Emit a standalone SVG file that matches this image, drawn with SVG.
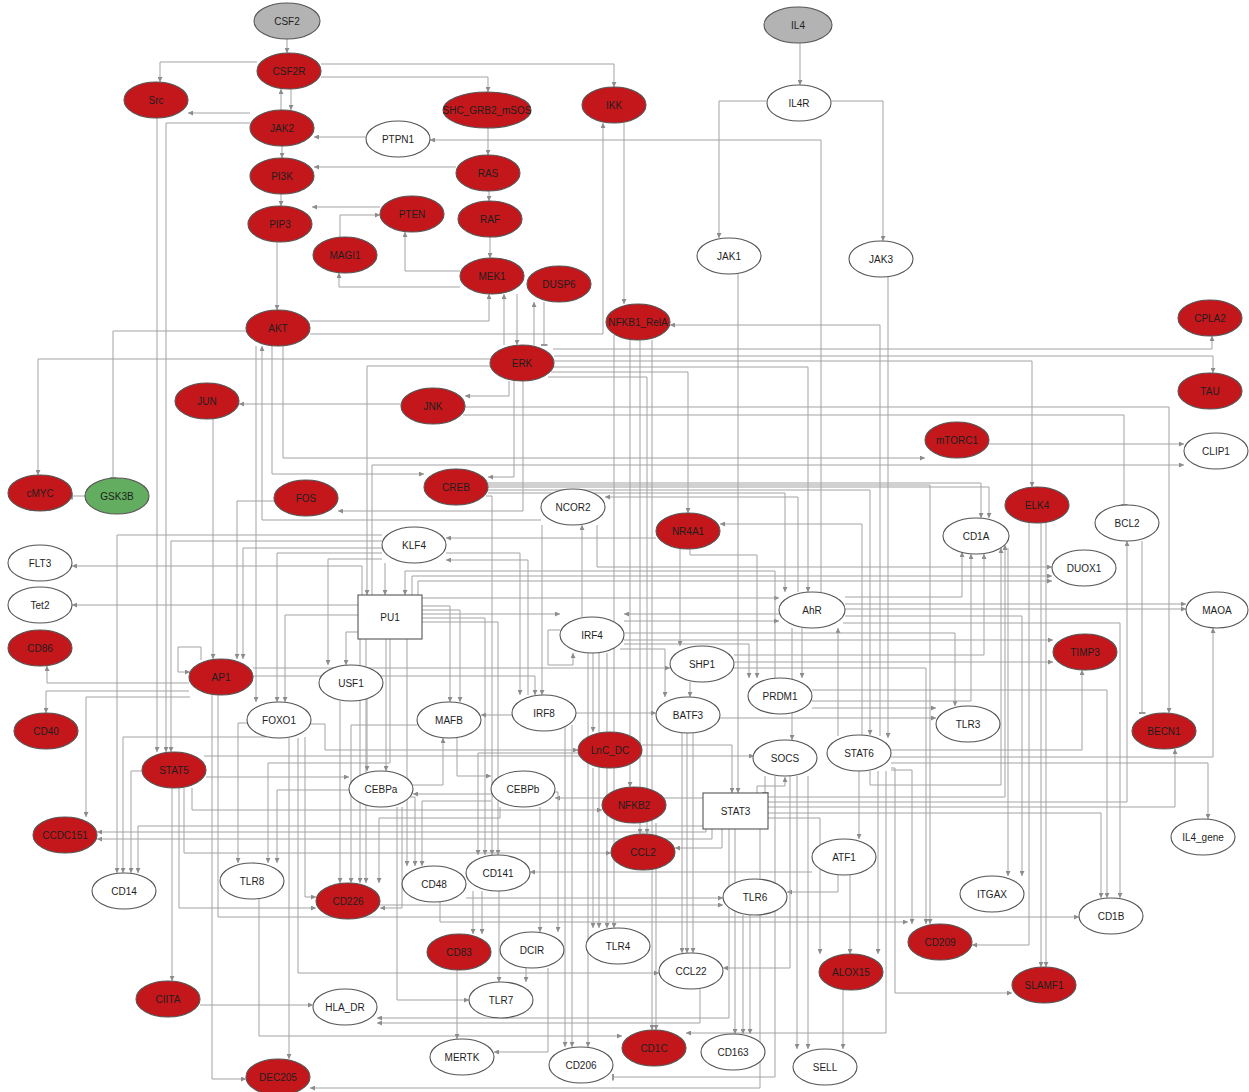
<svg xmlns="http://www.w3.org/2000/svg" width="1249" height="1092" viewBox="0 0 1249 1092">
<defs>
<marker id="ar" viewBox="0 0 6 6" refX="6" refY="3" markerWidth="5" markerHeight="5" orient="auto" markerUnits="userSpaceOnUse"><path d="M0,0 L6,3 L0,6 z" fill="#8c8c8c"/></marker>
<marker id="ib" viewBox="0 0 2 8" refX="1" refY="4" markerWidth="2" markerHeight="7" orient="auto" markerUnits="userSpaceOnUse"><rect width="2" height="8" fill="#8c8c8c"/></marker>
</defs>
<style>
.c path{fill:none;stroke:#a3a3a3;stroke-width:1;marker-end:url(#ar)}
.c path.i{marker-end:url(#ib)}
.n ellipse,.n rect{stroke:#555;stroke-width:1.1}
.r{fill:#c4171c}
.w{fill:#fff}
.g{fill:#b3b3b3}
.gr{fill:#63ad60}
text{font-family:"Liberation Sans",Arial,sans-serif;font-size:10px;text-anchor:middle;fill:#1e1e1e}
</style>
<rect width="1249" height="1092" fill="#fff"/>
<g class="c" id="connectors">
<path d="M287,39 V53"/>
<path d="M257,62 H160 V82"/>
<path d="M281,110 V89"/>
<path d="M291,89 V110"/>
<path d="M250,113 H188"/>
<path d="M250,123 H166 V752"/>
<path d="M157,118 V752"/>
<path d="M282,146 V158"/>
<path d="M281,194 V206"/>
<path d="M277,242 V310"/>
<path d="M321,64 H614 V87"/>
<path d="M321,77 H488 V92"/>
<path d="M488,128 V155"/>
<path d="M456,167 H314"/>
<path d="M366,137 H314"/>
<path d="M821,592 V140 H430"/>
<path d="M489,191 V201"/>
<path d="M490,237 V258"/>
<path d="M380,207 H312"/>
<path d="M340,237 V215 H380"/>
<path d="M460,271 H405 V232"/>
<path d="M460,287 H339 V273"/>
<path d="M310,321 H489 V294"/>
<path d="M310,334 H603 V123"/>
<path d="M504,345 V294"/>
<path d="M517,294 V345"/>
<path d="M534,345 V302"/>
<path class="i" d="M544,302 V345"/>
<path d="M624,123 V304"/>
<path d="M800,43 V85"/>
<path d="M767,101 H719 V238"/>
<path d="M831,101 H883 V241"/>
<path d="M738,274 V793"/>
<path d="M888,277 V738"/>
<path d="M880,736 V325 H670"/>
<path class="i" d="M246,331 H113 V478"/>
<path d="M490,359 H38 V475"/>
<path class="i" d="M85,496 H72"/>
<path d="M509,381 V396 H465"/>
<path d="M401,404 H239"/>
<path d="M213,419 V659"/>
<path d="M274,501 H237 V659"/>
<path d="M201,660 V647 H178 V672 H190"/>
<path d="M514,381 V477 H488"/>
<path d="M272,346 V474 H424"/>
<path d="M523,381 V511 H338"/>
<path d="M283,346 V458 H925"/>
<path d="M372,595 V465 H1184"/>
<path d="M989,444 H1184"/>
<path d="M553,349 H1212 V336"/>
<path d="M554,356 H1213 V373"/>
<path d="M554,361 H1032 V487"/>
<path d="M553,367 H808 V592"/>
<path d="M551,372 H688 V513"/>
<path d="M548,377 H647 V834"/>
<path d="M465,407 H1169 V713"/>
<path class="i" d="M463,415 H1124 V505"/>
<path class="i" d="M1142,541 V713"/>
<path d="M891,763 H1208 V819"/>
<path d="M891,757 H1213 V628"/>
<path d="M890,750 H1082 V670"/>
<path d="M768,807 H1175 V749"/>
<path d="M768,802 H1127 V541"/>
<path d="M768,797 H1005 V545"/>
<path d="M768,813 H1101 V898"/>
<path d="M768,818 H820 V954"/>
<path d="M870,771 V785 H1001 V548"/>
<path d="M1029,523 V945 H972"/>
<path d="M1041,523 V967"/>
<path d="M1046,523 V967"/>
<path d="M891,768 H895 V993 H1012"/>
<path d="M891,770 H912 V924"/>
<path d="M886,771 V1033 H686"/>
<path d="M859,771 V839"/>
<path d="M878,771 V954"/>
<path d="M838,736 V628"/>
<path d="M862,735 V524 H720"/>
<path d="M838,875 V892 H787"/>
<path d="M812,872 H530"/>
<path d="M850,875 V954"/>
<path d="M743,915 V1034"/>
<path d="M750,915 V1034"/>
<path d="M735,829 V1034"/>
<path d="M722,829 V848 H675"/>
<path d="M729,829 V1018 H377"/>
<path d="M700,989 V1023 H377"/>
<path d="M760,829 V1088 H310"/>
<path class="i" d="M765,776 V793"/>
<path d="M757,793 V786 H785 V777"/>
<path d="M797,776 V1049"/>
<path d="M808,776 V1049"/>
<path class="i" d="M775,776 V1077 H613"/>
<path d="M790,776 V968 H723"/>
<path d="M843,990 V1049"/>
<path d="M706,829 V832 H97"/>
<path d="M712,829 V839 H97"/>
<path d="M703,826 H138 V873"/>
<path d="M703,798 H555"/>
<path d="M642,745 H732 V793"/>
<path d="M640,340 V834"/>
<path d="M652,340 V1030"/>
<path d="M656,823 V1030"/>
<path d="M630,340 V787"/>
<path d="M614,335 V928"/>
<path d="M382,535 H117 V873"/>
<path d="M382,541 H171 V752"/>
<path d="M382,548 H243 V659"/>
<path d="M382,553 H277 V702"/>
<path d="M385,563 V595"/>
<path d="M446,553 H520 V695"/>
<path d="M528,695 V560 H446"/>
<path d="M656,538 H446"/>
<path d="M382,559 H328 V665"/>
<path d="M362,595 V566 H72"/>
<path d="M358,605 H72"/>
<path d="M422,614 H560"/>
<path d="M422,598 H779"/>
<path d="M422,606 H450 V702"/>
<path d="M422,610 H460 V702"/>
<path d="M358,632 H346 V665"/>
<path d="M386,639 V771"/>
<path d="M366,639 V883"/>
<path d="M360,639 V883"/>
<path d="M407,639 V866"/>
<path d="M390,639 V763 H268 V863"/>
<path d="M358,615 H285 V702"/>
<path d="M422,618 H485 V855"/>
<path d="M422,622 H498 V855"/>
<path d="M412,595 V576 H1052"/>
<path d="M418,595 V581 H1052"/>
<path d="M775,678 V571 H405 V595"/>
<path d="M491,366 H367 V595"/>
<path d="M582,617 V525"/>
<path d="M560,630 H548 V665 H573 V653"/>
<path d="M624,621 H779"/>
<path d="M779,614 H624"/>
<path d="M624,640 H1053"/>
<path d="M593,653 V732"/>
<path d="M599,653 V928"/>
<path d="M607,653 V928"/>
<path d="M620,649 H665 V697"/>
<path d="M624,644 H749 V678"/>
<path d="M624,633 H955 V706"/>
<path d="M588,653 V1047"/>
<path d="M798,592 V497 H605"/>
<path d="M488,493 H785 V592"/>
<path d="M845,604 H1186"/>
<path d="M845,609 H1186"/>
<path d="M802,628 V678"/>
<path d="M792,628 V740"/>
<path d="M845,597 H962 V552"/>
<path d="M845,616 H1022 V876"/>
<path d="M843,623 H1120 V898"/>
<path d="M1008,548 V876"/>
<path d="M488,483 H981 V518"/>
<path d="M488,487 H989 V518"/>
<path d="M488,485 H930 V924"/>
<path d="M488,490 H870 V735"/>
<path d="M486,496 H492 V855"/>
<path d="M541,520 H262 V346"/>
<path d="M542,525 V695"/>
<path d="M597,525 V567 H1052"/>
<path d="M680,549 V646"/>
<path d="M690,549 V555 H757 V678"/>
<path d="M690,682 V697"/>
<path d="M253,668 H670"/>
<path d="M734,662 H1053"/>
<path d="M734,668 H926 V924"/>
<path d="M734,655 H984 V554"/>
<path d="M682,733 V953"/>
<path d="M687,733 V953"/>
<path d="M693,733 V953"/>
<path d="M720,718 H936"/>
<path d="M812,708 H936"/>
<path d="M812,690 H1107 V898"/>
<path d="M812,701 H971 V554"/>
<path d="M512,715 H481"/>
<path d="M565,727 V1047"/>
<path d="M572,725 V1047"/>
<path d="M576,713 H656"/>
<path d="M457,738 V776 H491"/>
<path d="M413,785 H443 V738"/>
<path d="M417,725 H351 V883"/>
<path d="M340,701 V883"/>
<path d="M367,699 V771"/>
<path d="M189,683 H47 V666"/>
<path d="M189,691 H46 V713"/>
<path d="M190,697 H86 V817"/>
<path d="M212,695 V1079 H246"/>
<path d="M218,695 V917 H1079"/>
<path d="M253,676 H535 V695"/>
<path d="M266,737 H123 V873"/>
<path d="M247,723 H238 V863"/>
<path d="M289,738 V1059"/>
<path d="M298,738 V973 H659"/>
<path d="M305,737 V897 H316"/>
<path d="M311,724 H325 V750 H578"/>
<path d="M256,346 V702"/>
<path d="M142,771 H131 V873"/>
<path d="M172,788 V981"/>
<path d="M179,788 V908 H316"/>
<path d="M184,788 V853 H611"/>
<path d="M192,788 V810 H602"/>
<path d="M206,777 H349"/>
<path d="M204,756 H754"/>
<path d="M200,1005 H313"/>
<path d="M259,899 V1036 H622"/>
<path d="M349,790 H277 V863"/>
<path d="M397,807 V1000 H469"/>
<path d="M402,807 V908 H380"/>
<path d="M410,797 H415 V866"/>
<path d="M491,801 H422 V866"/>
<path d="M491,794 H413"/>
<path d="M500,807 V818 H379 V883"/>
<path d="M540,807 V932"/>
<path d="M555,792 H558 V932"/>
<path d="M578,753 H478 V855"/>
<path d="M593,768 V928"/>
<path d="M473,891 V934"/>
<path d="M482,891 V934"/>
<path d="M499,891 V982"/>
<path d="M466,898 H723"/>
<path d="M440,902 V922 H908"/>
<path d="M380,905 H723"/>
<path d="M526,968 V982"/>
<path d="M548,968 V1052 H494"/>
<path d="M457,970 V1039"/>
</g>
<g id="nodes">
<g id="n-CSF2" class="n"><ellipse class="g" cx="287" cy="21" rx="33" ry="18"/><text x="287" y="24.5">CSF2</text></g>
<g id="n-CSF2R" class="n"><ellipse class="r" cx="289" cy="71" rx="32" ry="18"/><text x="289" y="74.5">CSF2R</text></g>
<g id="n-Src" class="n"><ellipse class="r" cx="156" cy="100" rx="32" ry="18"/><text x="156" y="103.5">Src</text></g>
<g id="n-JAK2" class="n"><ellipse class="r" cx="282" cy="128" rx="32" ry="18"/><text x="282" y="131.5">JAK2</text></g>
<g id="n-PI3K" class="n"><ellipse class="r" cx="282" cy="176" rx="32" ry="18"/><text x="282" y="179.5">PI3K</text></g>
<g id="n-PIP3" class="n"><ellipse class="r" cx="280" cy="224" rx="32" ry="18"/><text x="280" y="227.5">PIP3</text></g>
<g id="n-AKT" class="n"><ellipse class="r" cx="278" cy="328" rx="32" ry="18"/><text x="278" y="331.5">AKT</text></g>
<g id="n-SHC_GRB2_mSOS" class="n"><ellipse class="r" cx="487" cy="110" rx="44" ry="18"/><text x="487" y="113.5">SHC_GRB2_mSOS</text></g>
<g id="n-IKK" class="n"><ellipse class="r" cx="614" cy="105" rx="32" ry="18"/><text x="614" y="108.5">IKK</text></g>
<g id="n-PTPN1" class="n"><ellipse class="w" cx="398" cy="139" rx="32" ry="18"/><text x="398" y="142.5">PTPN1</text></g>
<g id="n-RAS" class="n"><ellipse class="r" cx="488" cy="173" rx="32" ry="18"/><text x="488" y="176.5">RAS</text></g>
<g id="n-RAF" class="n"><ellipse class="r" cx="490" cy="219" rx="32" ry="18"/><text x="490" y="222.5">RAF</text></g>
<g id="n-PTEN" class="n"><ellipse class="r" cx="412" cy="214" rx="32" ry="18"/><text x="412" y="217.5">PTEN</text></g>
<g id="n-MAGI1" class="n"><ellipse class="r" cx="345" cy="255" rx="32" ry="18"/><text x="345" y="258.5">MAGI1</text></g>
<g id="n-MEK1" class="n"><ellipse class="r" cx="492" cy="276" rx="32" ry="18"/><text x="492" y="279.5">MEK1</text></g>
<g id="n-DUSP6" class="n"><ellipse class="r" cx="559" cy="284" rx="32" ry="18"/><text x="559" y="287.5">DUSP6</text></g>
<g id="n-ERK" class="n"><ellipse class="r" cx="522" cy="363" rx="32" ry="18"/><text x="522" y="366.5">ERK</text></g>
<g id="n-NFKB1_RelA" class="n"><ellipse class="r" cx="638" cy="322" rx="32" ry="18"/><text x="638" y="325.5">NFKB1_RelA</text></g>
<g id="n-IL4" class="n"><ellipse class="g" cx="798" cy="25" rx="34" ry="18"/><text x="798" y="28.5">IL4</text></g>
<g id="n-IL4R" class="n"><ellipse class="w" cx="799" cy="103" rx="32" ry="18"/><text x="799" y="106.5">IL4R</text></g>
<g id="n-JAK1" class="n"><ellipse class="w" cx="729" cy="256" rx="32" ry="18"/><text x="729" y="259.5">JAK1</text></g>
<g id="n-JAK3" class="n"><ellipse class="w" cx="881" cy="259" rx="32" ry="18"/><text x="881" y="262.5">JAK3</text></g>
<g id="n-CPLA2" class="n"><ellipse class="r" cx="1210" cy="318" rx="32" ry="18"/><text x="1210" y="321.5">CPLA2</text></g>
<g id="n-TAU" class="n"><ellipse class="r" cx="1210" cy="391" rx="32" ry="18"/><text x="1210" y="394.5">TAU</text></g>
<g id="n-mTORC1" class="n"><ellipse class="r" cx="957" cy="440" rx="32" ry="18"/><text x="957" y="443.5">mTORC1</text></g>
<g id="n-CLIP1" class="n"><ellipse class="w" cx="1216" cy="451" rx="32" ry="18"/><text x="1216" y="454.5">CLIP1</text></g>
<g id="n-ELK4" class="n"><ellipse class="r" cx="1037" cy="505" rx="32" ry="18"/><text x="1037" y="508.5">ELK4</text></g>
<g id="n-BCL2" class="n"><ellipse class="w" cx="1127" cy="523" rx="32" ry="18"/><text x="1127" y="526.5">BCL2</text></g>
<g id="n-CD1A" class="n"><ellipse class="w" cx="976" cy="536" rx="33" ry="18"/><text x="976" y="539.5">CD1A</text></g>
<g id="n-DUOX1" class="n"><ellipse class="w" cx="1084" cy="568" rx="32" ry="18"/><text x="1084" y="571.5">DUOX1</text></g>
<g id="n-MAOA" class="n"><ellipse class="w" cx="1217" cy="610" rx="31" ry="18"/><text x="1217" y="613.5">MAOA</text></g>
<g id="n-TIMP3" class="n"><ellipse class="r" cx="1085" cy="652" rx="32" ry="18"/><text x="1085" y="655.5">TIMP3</text></g>
<g id="n-TLR3" class="n"><ellipse class="w" cx="968" cy="724" rx="32" ry="18"/><text x="968" y="727.5">TLR3</text></g>
<g id="n-BECN1" class="n"><ellipse class="r" cx="1164" cy="731" rx="32" ry="18"/><text x="1164" y="734.5">BECN1</text></g>
<g id="n-IL4_gene" class="n"><ellipse class="w" cx="1203" cy="837" rx="32" ry="18"/><text x="1203" y="840.5">IL4_gene</text></g>
<g id="n-ITGAX" class="n"><ellipse class="w" cx="992" cy="894" rx="32" ry="18"/><text x="992" y="897.5">ITGAX</text></g>
<g id="n-CD1B" class="n"><ellipse class="w" cx="1111" cy="916" rx="32" ry="18"/><text x="1111" y="919.5">CD1B</text></g>
<g id="n-CD209" class="n"><ellipse class="r" cx="940" cy="942" rx="32" ry="18"/><text x="940" y="945.5">CD209</text></g>
<g id="n-SLAMF1" class="n"><ellipse class="r" cx="1044" cy="985" rx="32" ry="18"/><text x="1044" y="988.5">SLAMF1</text></g>
<g id="n-JUN" class="n"><ellipse class="r" cx="207" cy="401" rx="32" ry="18"/><text x="207" y="404.5">JUN</text></g>
<g id="n-cMYC" class="n"><ellipse class="r" cx="40" cy="493" rx="32" ry="18"/><text x="40" y="496.5">cMYC</text></g>
<g id="n-GSK3B" class="n"><ellipse class="gr" cx="117" cy="496" rx="32" ry="18"/><text x="117" y="499.5">GSK3B</text></g>
<g id="n-FOS" class="n"><ellipse class="r" cx="306" cy="498" rx="32" ry="18"/><text x="306" y="501.5">FOS</text></g>
<g id="n-FLT3" class="n"><ellipse class="w" cx="40" cy="563" rx="32" ry="18"/><text x="40" y="566.5">FLT3</text></g>
<g id="n-Tet2" class="n"><ellipse class="w" cx="40" cy="605" rx="32" ry="18"/><text x="40" y="608.5">Tet2</text></g>
<g id="n-CD86" class="n"><ellipse class="r" cx="40" cy="648" rx="32" ry="18"/><text x="40" y="651.5">CD86</text></g>
<g id="n-AP1" class="n"><ellipse class="r" cx="221" cy="677" rx="32" ry="18"/><text x="221" y="680.5">AP1</text></g>
<g id="n-FOXO1" class="n"><ellipse class="w" cx="279" cy="720" rx="32" ry="18"/><text x="279" y="723.5">FOXO1</text></g>
<g id="n-CD40" class="n"><ellipse class="r" cx="46" cy="731" rx="32" ry="18"/><text x="46" y="734.5">CD40</text></g>
<g id="n-JNK" class="n"><ellipse class="r" cx="433" cy="406" rx="32" ry="18"/><text x="433" y="409.5">JNK</text></g>
<g id="n-CREB" class="n"><ellipse class="r" cx="456" cy="487" rx="32" ry="18"/><text x="456" y="490.5">CREB</text></g>
<g id="n-NCOR2" class="n"><ellipse class="w" cx="573" cy="507" rx="32" ry="18"/><text x="573" y="510.5">NCOR2</text></g>
<g id="n-KLF4" class="n"><ellipse class="w" cx="414" cy="545" rx="32" ry="18"/><text x="414" y="548.5">KLF4</text></g>
<g id="n-PU1" class="n"><rect class="w" x="358" y="595" width="64" height="44"/><text x="390" y="620.5">PU1</text></g>
<g id="n-IRF4" class="n"><ellipse class="w" cx="592" cy="635" rx="32" ry="18"/><text x="592" y="638.5">IRF4</text></g>
<g id="n-USF1" class="n"><ellipse class="w" cx="351" cy="683" rx="32" ry="18"/><text x="351" y="686.5">USF1</text></g>
<g id="n-MAFB" class="n"><ellipse class="w" cx="449" cy="720" rx="32" ry="18"/><text x="449" y="723.5">MAFB</text></g>
<g id="n-IRF8" class="n"><ellipse class="w" cx="544" cy="713" rx="32" ry="18"/><text x="544" y="716.5">IRF8</text></g>
<g id="n-NR4A1" class="n"><ellipse class="r" cx="688" cy="531" rx="32" ry="18"/><text x="688" y="534.5">NR4A1</text></g>
<g id="n-AhR" class="n"><ellipse class="w" cx="812" cy="610" rx="33" ry="18"/><text x="812" y="613.5">AhR</text></g>
<g id="n-SHP1" class="n"><ellipse class="w" cx="702" cy="664" rx="32" ry="18"/><text x="702" y="667.5">SHP1</text></g>
<g id="n-PRDM1" class="n"><ellipse class="w" cx="780" cy="696" rx="32" ry="18"/><text x="780" y="699.5">PRDM1</text></g>
<g id="n-BATF3" class="n"><ellipse class="w" cx="688" cy="715" rx="32" ry="18"/><text x="688" y="718.5">BATF3</text></g>
<g id="n-STAT5" class="n"><ellipse class="r" cx="174" cy="770" rx="32" ry="18"/><text x="174" y="773.5">STAT5</text></g>
<g id="n-CCDC151" class="n"><ellipse class="r" cx="65" cy="835" rx="32" ry="18"/><text x="65" y="838.5">CCDC151</text></g>
<g id="n-CD14" class="n"><ellipse class="w" cx="124" cy="891" rx="32" ry="18"/><text x="124" y="894.5">CD14</text></g>
<g id="n-TLR8" class="n"><ellipse class="w" cx="252" cy="881" rx="32" ry="18"/><text x="252" y="884.5">TLR8</text></g>
<g id="n-CIITA" class="n"><ellipse class="r" cx="168" cy="999" rx="32" ry="18"/><text x="168" y="1002.5">CIITA</text></g>
<g id="n-DEC205" class="n"><ellipse class="r" cx="278" cy="1077" rx="32" ry="18"/><text x="278" y="1080.5">DEC205</text></g>
<g id="n-CEBPa" class="n"><ellipse class="w" cx="381" cy="789" rx="32" ry="18"/><text x="381" y="792.5">CEBPa</text></g>
<g id="n-CEBPb" class="n"><ellipse class="w" cx="523" cy="789" rx="32" ry="18"/><text x="523" y="792.5">CEBPb</text></g>
<g id="n-LnC_DC" class="n"><ellipse class="r" cx="610" cy="750" rx="32" ry="18"/><text x="610" y="753.5">LnC_DC</text></g>
<g id="n-CD48" class="n"><ellipse class="w" cx="434" cy="884" rx="32" ry="18"/><text x="434" y="887.5">CD48</text></g>
<g id="n-CD141" class="n"><ellipse class="w" cx="498" cy="873" rx="32" ry="18"/><text x="498" y="876.5">CD141</text></g>
<g id="n-CD226" class="n"><ellipse class="r" cx="348" cy="901" rx="32" ry="18"/><text x="348" y="904.5">CD226</text></g>
<g id="n-CD83" class="n"><ellipse class="r" cx="459" cy="952" rx="32" ry="18"/><text x="459" y="955.5">CD83</text></g>
<g id="n-DCIR" class="n"><ellipse class="w" cx="532" cy="950" rx="32" ry="18"/><text x="532" y="953.5">DCIR</text></g>
<g id="n-TLR7" class="n"><ellipse class="w" cx="501" cy="1000" rx="32" ry="18"/><text x="501" y="1003.5">TLR7</text></g>
<g id="n-HLA_DR" class="n"><ellipse class="w" cx="345" cy="1007" rx="32" ry="18"/><text x="345" y="1010.5">HLA_DR</text></g>
<g id="n-MERTK" class="n"><ellipse class="w" cx="462" cy="1057" rx="32" ry="18"/><text x="462" y="1060.5">MERTK</text></g>
<g id="n-CD206" class="n"><ellipse class="w" cx="581" cy="1065" rx="32" ry="18"/><text x="581" y="1068.5">CD206</text></g>
<g id="n-NFKB2" class="n"><ellipse class="r" cx="634" cy="805" rx="32" ry="18"/><text x="634" y="808.5">NFKB2</text></g>
<g id="n-CCL2" class="n"><ellipse class="r" cx="643" cy="852" rx="32" ry="18"/><text x="643" y="855.5">CCL2</text></g>
<g id="n-STAT3" class="n"><rect class="w" x="703" y="793" width="65" height="36"/><text x="735.5" y="814.5">STAT3</text></g>
<g id="n-SOCS" class="n"><ellipse class="w" cx="785" cy="758" rx="32" ry="18"/><text x="785" y="761.5">SOCS</text></g>
<g id="n-STAT6" class="n"><ellipse class="w" cx="859" cy="753" rx="32" ry="18"/><text x="859" y="756.5">STAT6</text></g>
<g id="n-ATF1" class="n"><ellipse class="w" cx="844" cy="857" rx="32" ry="18"/><text x="844" y="860.5">ATF1</text></g>
<g id="n-TLR6" class="n"><ellipse class="w" cx="755" cy="897" rx="32" ry="18"/><text x="755" y="900.5">TLR6</text></g>
<g id="n-TLR4" class="n"><ellipse class="w" cx="618" cy="946" rx="32" ry="18"/><text x="618" y="949.5">TLR4</text></g>
<g id="n-CCL22" class="n"><ellipse class="w" cx="691" cy="971" rx="32" ry="18"/><text x="691" y="974.5">CCL22</text></g>
<g id="n-ALOX15" class="n"><ellipse class="r" cx="851" cy="972" rx="32" ry="18"/><text x="851" y="975.5">ALOX15</text></g>
<g id="n-CD1C" class="n"><ellipse class="r" cx="654" cy="1048" rx="32" ry="18"/><text x="654" y="1051.5">CD1C</text></g>
<g id="n-CD163" class="n"><ellipse class="w" cx="733" cy="1052" rx="32" ry="18"/><text x="733" y="1055.5">CD163</text></g>
<g id="n-SELL" class="n"><ellipse class="w" cx="825" cy="1067" rx="32" ry="18"/><text x="825" y="1070.5">SELL</text></g>
</g>
</svg>
